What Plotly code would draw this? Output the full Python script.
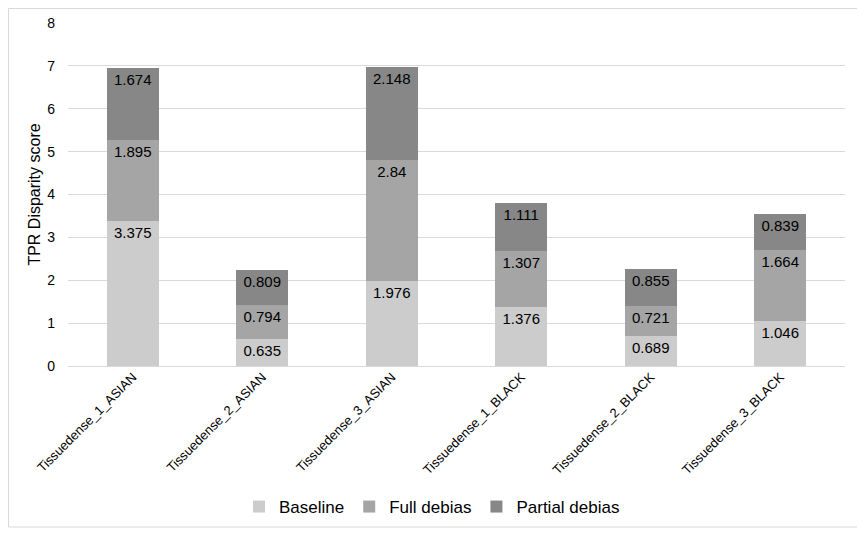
import plotly.graph_objects as go

categories = ["Tissuedense_1_ASIAN", "Tissuedense_2_ASIAN", "Tissuedense_3_ASIAN",
              "Tissuedense_1_BLACK", "Tissuedense_2_BLACK", "Tissuedense_3_BLACK"]
baseline = [3.375, 0.635, 1.976, 1.376, 0.689, 1.046]
full_debias = [1.895, 0.794, 2.84, 1.307, 0.721, 1.664]
partial_debias = [1.674, 0.809, 2.148, 1.111, 0.855, 0.839]

series = [("Baseline", baseline, "#cccccc"),
          ("Full debias", full_debias, "#a5a5a5"),
          ("Partial debias", partial_debias, "#878787")]

fig = go.Figure()
for name, vals, color in series:
    fig.add_trace(go.Bar(
        x=categories, y=vals, name=name,
        marker=dict(color=color, line=dict(width=0)),
        text=[str(v) for v in vals], textposition="inside",
        insidetextanchor="end", textangle=0,
        textfont=dict(color="#000000", size=15, family="Liberation Sans, Arial"),
    ))

# page has an 8px body margin, so the figure is offset by (8, 8)
OFF = 8
W, H = 865 - OFF, 535 - OFF
ml, mt = 68 - OFF, 23 - OFF
plot_right, plot_bottom = 845 - OFF, 366 - OFF
mr, mb = W - plot_right, H - plot_bottom
pw, ph = W - ml - mr, H - mt - mb


def px_to_paper_x(px):
    return (px - OFF - ml) / pw


def px_to_paper_y(py):
    return (plot_bottom - (py - OFF)) / ph


fig.update_layout(
    width=W, height=H, barmode="stack", bargap=0.6,
    margin=dict(l=ml, r=mr, t=mt, b=mb, autoexpand=False),
    paper_bgcolor="white", plot_bgcolor="white",
    font=dict(family="Liberation Sans, Arial", color="#000000", size=14),
    uniformtext=dict(minsize=15, mode="show"),
    legend=dict(orientation="h", x=px_to_paper_x(432), xanchor="center",
                y=px_to_paper_y(507), yanchor="middle",
                font=dict(size=17, color="#000000"), traceorder="normal",
                itemwidth=30),
    xaxis=dict(tickangle=-45, tickfont=dict(size=13), showgrid=False,
               showline=False, ticks="", automargin=False),
    yaxis=dict(range=[0, 8], dtick=1, gridcolor="#d9d9d9", zeroline=True,
               zerolinecolor="#d9d9d9", zerolinewidth=1, ticks="",
               tickfont=dict(size=14), automargin=False, ticklabelstandoff=12,
               title=dict(text="TPR Disparity score", font=dict(size=16), standoff=2)),
    shapes=[dict(type="rect", xref="paper", yref="paper",
                 x0=px_to_paper_x(8.5), x1=px_to_paper_x(858),
                 y0=px_to_paper_y(527), y1=px_to_paper_y(8.5),
                 line=dict(color="#d9d9d9", width=1), layer="below")],
)

fig.write_html("out.html")
